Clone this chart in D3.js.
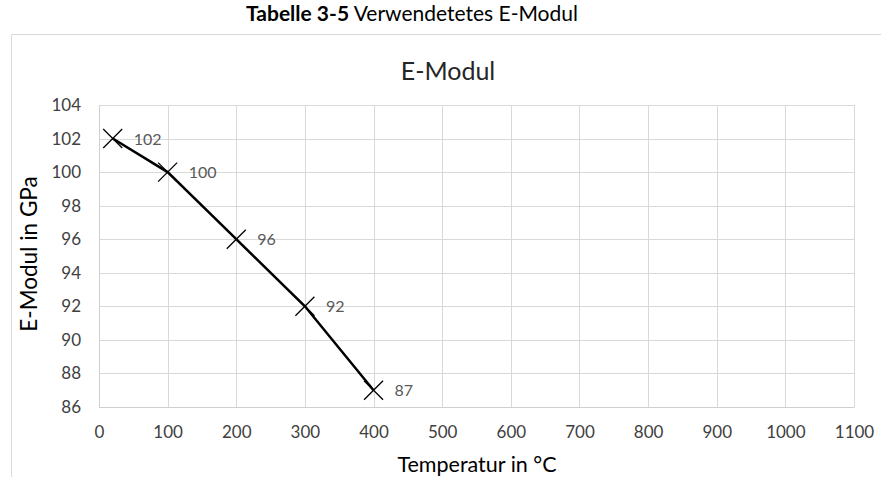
<!DOCTYPE html>
<html><head><meta charset="utf-8">
<script src="https://cdn.jsdelivr.net/npm/d3@7"></script>
<style>body{margin:0;background:#fff}svg{display:block;font-family:Lato,"Open Sans",sans-serif}</style>
</head><body><svg id="c" width="881" height="477"></svg>
<script>
const temps = [20, 100, 200, 300, 400];
const moduli = [102, 100, 96, 92, 87];
const xTicks = [0,100,200,300,400,500,600,700,800,900,1000,1100];
const yTicks = [86,88,90,92,94,96,98,100,102,104];
const caption = ["Tabelle 3-5", " Verwendetetes E-Modul"];
const chartTitle = "E-Modul";
const xTitle = "Temperatur in °C";
const yTitle = "E-Modul in GPa";

const svg = d3.select("#c");
const x = d3.scaleLinear().domain([0,1100]).range([99,854]);
const y = d3.scaleLinear().domain([86,104]).range([407,105]);

// caption
const cap = svg.append("text").attr("x",412).attr("y",21).attr("text-anchor","middle")
  .attr("font-size",21).attr("fill","#000");
cap.append("tspan").attr("font-weight","bold").text(caption[0]);
cap.append("tspan").text(caption[1]);

// chart frame
svg.append("path").attr("d","M11.5,477V34.5H881").attr("fill","none").attr("stroke","#d9d9d9").attr("stroke-width",1);

svg.append("text").attr("x",448).attr("y",80).attr("text-anchor","middle")
  .attr("font-size",25).attr("fill","#262626").text(chartTitle);

// grid
const g = svg.append("g");
g.selectAll(".gx").data(xTicks).join("line")
  .attr("x1",d=>Math.round(x(d))+0.5).attr("x2",d=>Math.round(x(d))+0.5)
  .attr("y1",y(104)).attr("y2",y(86)).attr("stroke","#d9d9d9").attr("stroke-width",1);
g.selectAll(".gy").data(yTicks).join("line")
  .attr("y1",d=>Math.round(y(d))+0.5).attr("y2",d=>Math.round(y(d))+0.5)
  .attr("x1",x(0)).attr("x2",x(1100)).attr("stroke","#d9d9d9").attr("stroke-width",1);

// axes (labels only)
const xa = svg.append("g").attr("transform",`translate(0,${y(86)})`)
  .call(d3.axisBottom(x).tickValues(xTicks).tickSize(0).tickPadding(19).tickFormat(d3.format("d")));
xa.select(".domain").attr("stroke","#cfcfcf");
xa.selectAll("text").attr("font-size",17).attr("fill","#404040").attr("font-family","Lato,sans-serif");
const ya = svg.append("g").attr("transform",`translate(${x(0)},0)`)
  .call(d3.axisLeft(y).tickValues(yTicks).tickSize(0).tickPadding(18).tickFormat(d3.format("d")));
ya.select(".domain").attr("stroke","#cfcfcf");
ya.selectAll("text").attr("font-size",17).attr("fill","#404040").attr("font-family","Lato,sans-serif");

// titles
svg.append("text").attr("x",477).attr("y",472).attr("text-anchor","middle")
  .attr("font-size",21.5).attr("fill","#000").text(xTitle);
svg.append("text").attr("transform","translate(37,254) rotate(-90)").attr("text-anchor","middle")
  .attr("font-size",22.5).attr("fill","#000").text(yTitle);

// data
const data = temps.map((t,i)=>({t, v:moduli[i]}));
svg.append("path").datum(data).attr("fill","none").attr("stroke","#000").attr("stroke-width",2.5)
  .attr("d", d3.line().x(d=>x(d.t)).y(d=>y(d.v)));
const m = 9.5;
svg.selectAll(".mk").data(data).join("path").attr("fill","none").attr("stroke","#000").attr("stroke-width",1.3)
  .attr("d", d=>{const cx=x(d.t), cy=y(d.v); return `M${cx-m},${cy-m}L${cx+m},${cy+m}M${cx-m},${cy+m}L${cx+m},${cy-m}`;});
svg.selectAll(".lb").data(data).join("text").attr("x",d=>x(d.t)+21).attr("y",d=>y(d.v)+6)
  .attr("font-size",16).attr("fill","#595959").text(d=>d.v);
</script></body></html>
